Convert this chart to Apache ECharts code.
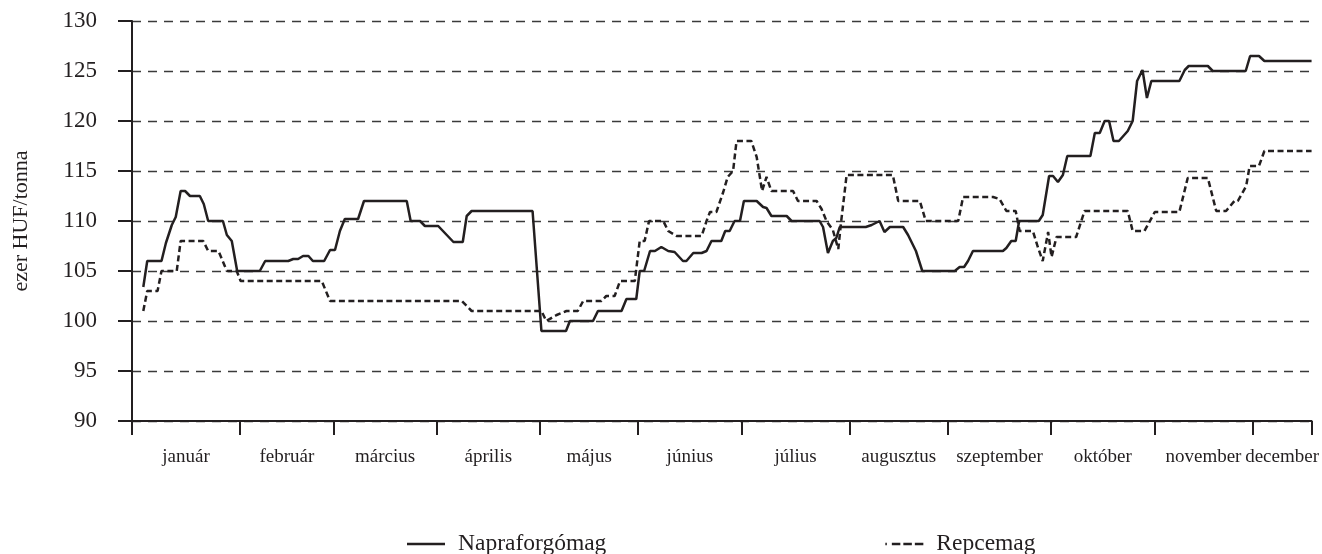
<!DOCTYPE html>
<html>
<head>
    <meta charset="utf-8">
    <title>Napraforgómag és repcemag ára</title>
    <script src="https://cdn.jsdelivr.net/npm/echarts@6.0.0/dist/echarts.min.js"></script>
</head>
<body style="margin:0;background:#fff">
    <div id="main" style="width:1322px;height:554px;"></div>
    <script type="text/javascript">
        // hónapok és a hónaphatárok (kereskedési nap sorszáma)
        var months = ['január', 'február', 'március', 'április', 'május', 'június',
            'július', 'augusztus', 'szeptember', 'október', 'november', 'december'];
        var monthStarts = [0, 22, 41, 62, 83, 103, 124, 146, 166, 187, 208, 228, 240];

        // [nap, ezer HUF/tonna]
        var napraforgomag = [
            [2.3, 103.4], [3.1, 106], [6.0, 106], [6.9, 107.8], [8.1, 109.6], [8.9, 110.4],
            [9.9, 113], [10.8, 113], [11.8, 112.5], [13.8, 112.5], [14.6, 111.7], [15.5, 110],
            [18.5, 110], [19.3, 108.6], [20.3, 108], [21.4, 105], [26.0, 105], [27.1, 106],
            [31.8, 106], [32.8, 106.2], [33.8, 106.2], [34.8, 106.5], [35.9, 106.5], [36.8, 106],
            [39.1, 106], [40.3, 107.1], [41.3, 107.1], [42.3, 109], [43.3, 110.2], [46.0, 110.2],
            [47.2, 112], [55.9, 112], [56.7, 110], [58.6, 110], [59.6, 109.5], [62.3, 109.5],
            [65.4, 107.9], [67.3, 107.9], [68.1, 110.5], [69.1, 111], [81.5, 111], [83.3, 99],
            [88.3, 99], [89.1, 100], [93.8, 100], [94.8, 101], [99.6, 101], [100.6, 102.2],
            [102.6, 102.2], [103.3, 105], [104.2, 105], [105.4, 107], [106.4, 107], [107.7, 107.4],
            [109.1, 107], [110.4, 106.9], [112.1, 106], [112.8, 106], [114.2, 106.8], [115.9, 106.8],
            [116.9, 107], [117.9, 108], [119.9, 108], [120.7, 109], [121.6, 109], [122.6, 110],
            [123.7, 110], [124.5, 112], [127.1, 112], [128.4, 111.4], [129.1, 111.3], [130.1, 110.5],
            [133.2, 110.5], [134.2, 110], [139.9, 110], [140.6, 109.4], [141.6, 106.8], [142.6, 108],
            [143.3, 108.3], [144.0, 109.4], [149.3, 109.4], [150.5, 109.6], [152.1, 110], [153.1, 108.9],
            [154.2, 109.4], [156.9, 109.4], [157.9, 108.6], [159.5, 107], [160.8, 105], [167.4, 105],
            [168.4, 105.4], [169.3, 105.4], [170.1, 106], [171.1, 107], [177.2, 107], [177.9, 107.3],
            [178.9, 108], [179.8, 108], [180.5, 110], [184.5, 110], [185.3, 110.6], [186.6, 114.5],
            [187.4, 114.5], [188.4, 113.9], [189.4, 114.6], [190.3, 116.5], [195.0, 116.5], [195.9, 118.8],
            [196.9, 118.8], [197.9, 120], [198.8, 120], [199.7, 118], [200.8, 118], [202.6, 119],
            [203.6, 120], [204.5, 124], [205.6, 125.1], [206.5, 122.3], [207.4, 124], [213.1, 124],
            [214.2, 125.1], [215.0, 125.5], [218.9, 125.5], [219.9, 125], [226.6, 125], [227.5, 126.5],
            [229.3, 126.5], [230.4, 126], [240, 126]
        ];
        var repcemag = [
            [2.3, 101], [3.1, 103], [5.2, 103], [6.0, 105], [9.1, 105], [9.9, 108],
            [14.5, 108], [15.5, 107], [17.6, 107], [19.3, 105], [21.3, 105], [22.1, 104],
            [38.6, 104], [40.3, 102], [67.1, 102], [69.1, 101], [83.3, 101], [84.3, 100],
            [86.4, 100.6], [88.4, 101], [90.7, 101], [91.8, 102], [95.5, 102], [96.5, 102.5],
            [98.2, 102.5], [99.3, 104], [102.3, 104], [103.3, 108], [104.3, 108], [105.2, 110],
            [108.1, 110], [109.1, 109], [110.8, 108.5], [115.9, 108.5], [116.9, 110], [117.6, 110.9],
            [118.9, 110.9], [120.3, 112.9], [121.2, 114.4], [122.3, 115], [123.0, 118], [126.0, 118],
            [127.1, 116.4], [128.2, 113], [129.1, 114.4], [130.1, 113], [134.5, 113], [135.5, 112],
            [139.3, 112], [140.3, 111.2], [141.3, 110], [142.6, 109.1], [143.7, 107.2], [144.3, 110],
            [145.4, 114.6], [154.8, 114.6], [155.9, 112], [160.3, 112], [161.5, 110], [168.1, 110],
            [169.1, 112.4], [175.2, 112.4], [176.5, 112.2], [177.9, 111], [179.8, 111], [180.6, 109],
            [183.3, 109], [184.3, 107.4], [185.3, 106], [186.4, 108.9], [187.1, 106.4], [188.1, 108.4],
            [192.1, 108.4], [193.8, 111], [202.6, 111], [203.6, 109], [206.0, 109], [208.1, 110.9],
            [213.1, 110.9], [214.8, 114.3], [218.9, 114.3], [220.6, 111], [222.6, 111], [224.3, 112],
            [225.0, 112], [226.7, 113.5], [227.4, 115.5], [229.3, 115.5], [230.4, 117], [240, 117]
        ];

        var monthMids = [];
        for (var i = 0; i < months.length; i++) {
            monthMids.push((monthStarts[i] + monthStarts[i + 1]) / 2);
        }

        var ink = '#231f20';
        var serif = '"Liberation Serif", "Times New Roman", serif';

        // jelmagyarázat ikonjai: folytonos és szaggatott vonal
        var solidIcon = 'path://M0,0h38v2.5h-38z';
        var dashIcon = 'path://M0,0h1.5v2.5h-1.5z M6.5,0h8.5v2.5h-8.5z M18,0h8.5v2.5h-8.5z M29.5,0h8.5v2.5h-8.5z';

        var myChart = echarts.init(document.getElementById('main'));
        var option = {
            backgroundColor: '#fff',
            animation: false,
            grid: {
                left: 132,
                right: 10,
                top: 21,
                bottom: 133
            },
            legend: {
                left: 402,
                top: 527,
                itemWidth: 38,
                itemHeight: 2.5,
                itemGap: 279,
                textStyle: {
                    color: ink,
                    fontFamily: serif,
                    fontSize: 23.5,
                    padding: [0, 0, 0, 8]
                },
                data: [
                    { name: 'Napraforgómag', icon: solidIcon },
                    { name: 'Repcemag', icon: dashIcon }
                ]
            },
            xAxis: {
                type: 'value',
                min: 0,
                max: 240,
                axisLine: {
                    lineStyle: { color: ink, width: 2 }
                },
                axisTick: {
                    length: 14,
                    customValues: monthStarts,
                    lineStyle: { color: ink, width: 2 }
                },
                axisLabel: {
                    customValues: monthMids,
                    margin: 27,
                    color: ink,
                    fontFamily: serif,
                    fontSize: 19,
                    formatter: function (v) {
                        for (var j = 0; j < monthMids.length; j++) {
                            if (Math.abs(monthMids[j] - v) < 0.01) {
                                return months[j];
                            }
                        }
                        return '';
                    }
                },
                splitLine: { show: false }
            },
            yAxis: {
                type: 'value',
                min: 90,
                max: 130,
                interval: 5,
                name: 'ezer HUF/tonna',
                nameLocation: 'middle',
                nameRotate: 90,
                nameGap: 100,
                nameTextStyle: {
                    color: ink,
                    fontFamily: serif,
                    fontSize: 22
                },
                axisLine: {
                    show: true,
                    lineStyle: { color: ink, width: 2 }
                },
                axisTick: {
                    show: true,
                    length: 14,
                    lineStyle: { color: ink, width: 2 }
                },
                axisLabel: {
                    margin: 35,
                    color: ink,
                    fontFamily: serif,
                    fontSize: 23
                },
                splitLine: {
                    show: true,
                    lineStyle: { color: '#3a3a3a', width: 1.3, type: [9, 7] }
                }
            },
            series: [{
                name: 'Napraforgómag',
                type: 'line',
                symbol: 'none',
                lineStyle: { color: ink, width: 2.5 },
                itemStyle: { color: ink },
                data: napraforgomag
            }, {
                name: 'Repcemag',
                type: 'line',
                symbol: 'none',
                lineStyle: { color: ink, width: 2.5, type: [6, 3.5] },
                itemStyle: { color: ink },
                data: repcemag
            }]
        };
        myChart.setOption(option);
    </script>
</body>
</html>
